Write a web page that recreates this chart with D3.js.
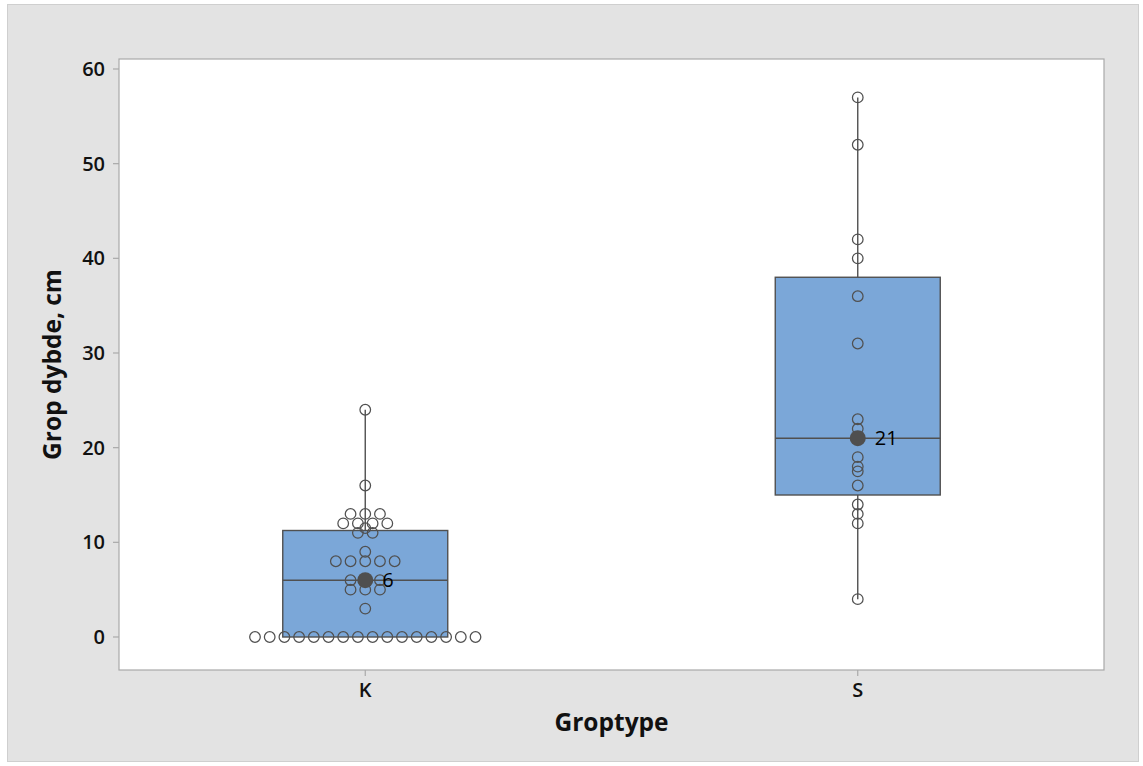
<!DOCTYPE html>
<html>
<head>
<meta charset="utf-8">
<script src="https://cdn.jsdelivr.net/npm/d3@7"></script>
<style>
  html, body { margin: 0; padding: 0; background: #ffffff; }
  svg { display: block; }
  text { font-family: "Open Sans", "Noto Sans", sans-serif; }
</style>
</head>
<body>
<svg id="chart" width="1143" height="766"></svg>
<script>
// ---- data ----
const categories = ["K", "S"];
const valuesK = [0,0,0,0,0,0,0,0,0,0,0,0,0,0,0,0, 3, 5,5,5, 6,6,6, 8,8,8,8,8, 9, 11,11, 11.5, 12,12,12,12, 13,13,13, 16, 24];
const valuesS = [4, 12, 13, 14, 16, 17.5, 18, 19, 21, 22, 23, 31, 36, 40, 42, 52, 57];
const yTicks = [0, 10, 20, 30, 40, 50, 60];
const xTitle = "Groptype";
const yTitle = "Grop dybde, cm";

const seriesValues = [valuesK, valuesS];

// ---- layout ----
const plot = { left: 119, top: 59, right: 1104, bottom: 670 };

const svg = d3.select("#chart");

// outer frame
svg.append("rect").attr("x", 7.5).attr("y", 4.5).attr("width", 1131).attr("height", 757)
  .attr("fill", "#e3e3e3").attr("stroke", "#cfcfcf").attr("stroke-width", 1);

// plot area
svg.append("rect").attr("x", plot.left).attr("y", plot.top)
  .attr("width", plot.right - plot.left).attr("height", plot.bottom - plot.top)
  .attr("fill", "#ffffff").attr("stroke", "#a9a9a9").attr("stroke-width", 1.2);

const x = d3.scalePoint().domain(categories).range([plot.left, plot.right]).padding(0.5);
const y = d3.scaleLinear().domain([-3.486, 61.056]).range([plot.bottom, plot.top]);

// Minitab-style quartiles
function quant(sorted, p) {
  const n = sorted.length;
  const pos = p * (n + 1);
  if (pos <= 1) return sorted[0];
  if (pos >= n) return sorted[n - 1];
  const lo = Math.floor(pos), frac = pos - lo;
  return sorted[lo - 1] + frac * (sorted[lo] - sorted[lo - 1]);
}

const boxHalf = x.step() * 0.1675;
const dotSpacing = 14.7;
const dotR = 5.3;

categories.forEach((cat, gi) => {
  const vals = seriesValues[gi].slice().sort((a, b) => a - b);
  const q1 = quant(vals, 0.25), med = quant(vals, 0.5), q3 = quant(vals, 0.75);
  const iqr = q3 - q1;
  const hiFence = q3 + 1.5 * iqr, loFence = q1 - 1.5 * iqr;
  const whiskHi = d3.max(vals.filter(v => v <= hiFence));
  const whiskLo = d3.min(vals.filter(v => v >= loFence));
  const cx = x(cat);
  const g = svg.append("g");

  // whiskers
  g.append("line").attr("x1", cx).attr("x2", cx).attr("y1", y(q3)).attr("y2", y(whiskHi))
    .attr("stroke", "#505050").attr("stroke-width", 1.4);
  g.append("line").attr("x1", cx).attr("x2", cx).attr("y1", y(q1)).attr("y2", y(whiskLo))
    .attr("stroke", "#505050").attr("stroke-width", 1.4);

  // box
  g.append("rect").attr("x", cx - boxHalf).attr("y", y(q3))
    .attr("width", boxHalf * 2).attr("height", y(q1) - y(q3))
    .attr("fill", "#7ba7d8").attr("stroke", "#505050").attr("stroke-width", 1.4);
  g.append("line").attr("x1", cx - boxHalf).attr("x2", cx + boxHalf)
    .attr("y1", y(med)).attr("y2", y(med)).attr("stroke", "#505050").attr("stroke-width", 1.4);

  // individual points, stacked horizontally when equal
  const groups = d3.groups(vals, v => v);
  groups.forEach(([v, arr]) => {
    const n = arr.length;
    arr.forEach((_, i) => {
      g.append("circle")
        .attr("cx", cx + (i - (n - 1) / 2) * dotSpacing)
        .attr("cy", y(v))
        .attr("r", dotR)
        .attr("fill", "none")
        .attr("stroke", "#505050")
        .attr("stroke-width", 1.25);
    });
  });

  // median marker + label
  g.append("circle").attr("cx", cx).attr("cy", y(med)).attr("r", 8)
    .attr("fill", "#4f4f4f");
  g.append("text").attr("x", cx + 17).attr("y", y(med) + 7)
    .attr("font-size", 20).attr("fill", "#000")
    .text(d3.format("d")(Math.round(med)));
});

// y axis ticks & labels
const yAxisG = svg.append("g");
yTicks.forEach(t => {
  yAxisG.append("line").attr("x1", plot.left - 6).attr("x2", plot.left)
    .attr("y1", y(t)).attr("y2", y(t)).attr("stroke", "#a9a9a9").attr("stroke-width", 1.2);
  yAxisG.append("text").attr("x", plot.left - 14).attr("y", y(t) + 7)
    .attr("text-anchor", "end").attr("font-size", 20).attr("font-weight", 600)
    .attr("fill", "#111").text(t);
});

// x axis ticks & labels
categories.forEach(c => {
  svg.append("line").attr("x1", x(c)).attr("x2", x(c))
    .attr("y1", plot.bottom).attr("y2", plot.bottom + 6)
    .attr("stroke", "#a9a9a9").attr("stroke-width", 1.2);
  svg.append("text").attr("x", x(c)).attr("y", plot.bottom + 27)
    .attr("text-anchor", "middle").attr("font-size", 20).attr("font-weight", 600)
    .attr("fill", "#111").text(c);
});

// axis titles
svg.append("text").attr("x", (plot.left + plot.right) / 2).attr("y", 731)
  .attr("text-anchor", "middle").attr("font-size", 24.5).attr("font-weight", 700)
  .attr("fill", "#111").text(xTitle);
svg.append("text")
  .attr("transform", `translate(61,${(plot.top + plot.bottom) / 2}) rotate(-90)`)
  .attr("text-anchor", "middle").attr("font-size", 24.5).attr("font-weight", 700)
  .attr("fill", "#111").text(yTitle);
</script>
</body>
</html>
